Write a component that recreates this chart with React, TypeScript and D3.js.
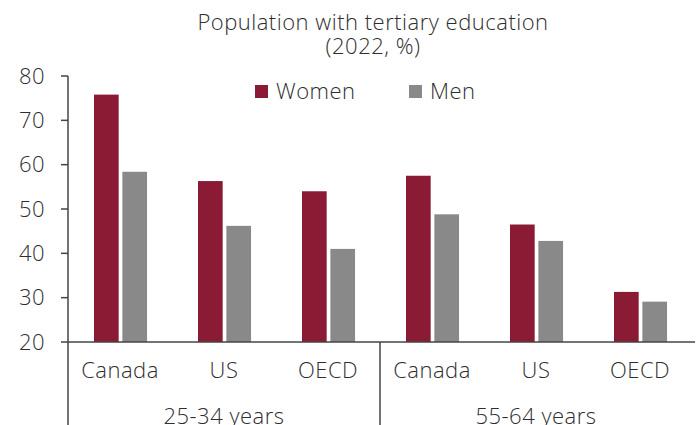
import React, { useEffect, useRef } from 'react';
import * as d3 from 'd3';

const categories = ['Canada', 'US', 'OECD', 'Canada', 'US', 'OECD'];
const groups = ['25-34 years', '55-64 years'];
const women = [75.8, 56.3, 54.0, 57.5, 46.5, 31.3];
const men = [58.4, 46.2, 41.0, 48.8, 42.8, 29.1];
const yTicks = [20, 30, 40, 50, 60, 70, 80];
const seriesNames = ['Women', 'Men'];
const seriesColors = ['#8B1A35', '#898989'];

const W = 697;
const H = 425;

const App = () => {
  const ref = useRef(null);

  useEffect(() => {
    const svg = d3.select(ref.current);
    svg.selectAll('*').remove();

    const left = 68;
    const right = 692;
    const top = 76;
    const bottom = 342;
    const font = '"Open Sans", Lato, sans-serif';
    const textColor = '#2e2e2e';
    const axisColor = '#444444';

    const x = d3.scaleBand()
      .domain(d3.range(categories.length).map(String))
      .range([left, right])
      .paddingInner(0)
      .paddingOuter(0);

    const inner = d3.scaleBand()
      .domain(seriesNames)
      .range([x.bandwidth() * 0.25, x.bandwidth() * 0.76])
      .paddingInner(0.13);

    const y = d3.scaleLinear().domain([20, 80]).range([bottom, top]);

    const label = (sel) => sel
      .style('font-family', font).style('font-size', '22px')
      .style('letter-spacing', '0.5px')
      .style('font-weight', 300).style('fill', textColor);

    // title
    svg.append('text')
      .attr('x', 373).attr('y', 30)
      .attr('text-anchor', 'middle')
      .call(label)
      .text('Population with tertiary education');
    svg.append('text')
      .attr('x', 373).attr('y', 54)
      .attr('text-anchor', 'middle')
      .call(label)
      .text('(2022, %)');

    // bars
    const data = categories.map((c, i) => ({ i, values: [women[i], men[i]] }));
    const g = svg.append('g');
    data.forEach(d => {
      d.values.forEach((v, k) => {
        g.append('rect')
          .attr('x', x(String(d.i)) + inner(seriesNames[k]))
          .attr('y', y(v))
          .attr('width', inner.bandwidth())
          .attr('height', y(20) - y(v))
          .attr('fill', seriesColors[k]);
      });
    });

    // y axis
    const yAxis = svg.append('g');
    yAxis.append('line')
      .attr('x1', left).attr('x2', left)
      .attr('y1', top).attr('y2', H)
      .attr('stroke', axisColor).attr('stroke-width', 1.5);
    yTicks.forEach(t => {
      yAxis.append('line')
        .attr('x1', left - 7).attr('x2', left)
        .attr('y1', y(t)).attr('y2', y(t))
        .attr('stroke', axisColor).attr('stroke-width', 1.5);
      yAxis.append('text')
        .attr('x', 45).attr('y', y(t) + 7.5)
        .attr('text-anchor', 'end')
        .call(label)
        .text(t);
    });

    // x axis
    svg.append('line')
      .attr('x1', left).attr('x2', 695)
      .attr('y1', bottom).attr('y2', bottom)
      .attr('stroke', axisColor).attr('stroke-width', 1.5);
    svg.append('line')
      .attr('x1', x('3')).attr('x2', x('3'))
      .attr('y1', bottom).attr('y2', H)
      .attr('stroke', axisColor).attr('stroke-width', 1.5);

    categories.forEach((c, i) => {
      svg.append('text')
        .attr('x', x(String(i)) + x.bandwidth() / 2)
        .attr('y', 378)
        .attr('text-anchor', 'middle')
        .call(label)
        .text(c);
    });
    groups.forEach((gname, j) => {
      const cx = x(String(j * 3 + 1)) + x.bandwidth() / 2;
      svg.append('text')
        .attr('x', cx)
        .attr('y', 424)
        .attr('text-anchor', 'middle')
        .call(label)
        .text(gname);
    });

    // legend
    const legendX = [255, 409];
    seriesNames.forEach((s, k) => {
      svg.append('rect')
        .attr('x', legendX[k]).attr('y', 85)
        .attr('width', 13).attr('height', 13)
        .attr('fill', seriesColors[k]);
      svg.append('text')
        .attr('x', legendX[k] + 21).attr('y', 99)
        .call(label)
        .text(s);
    });
  }, []);

  return (
    <svg ref={ref} width={W} height={H}
      style={{ position: 'absolute', left: 0, top: 0, background: '#fff' }} />
  );
};

export default App;
